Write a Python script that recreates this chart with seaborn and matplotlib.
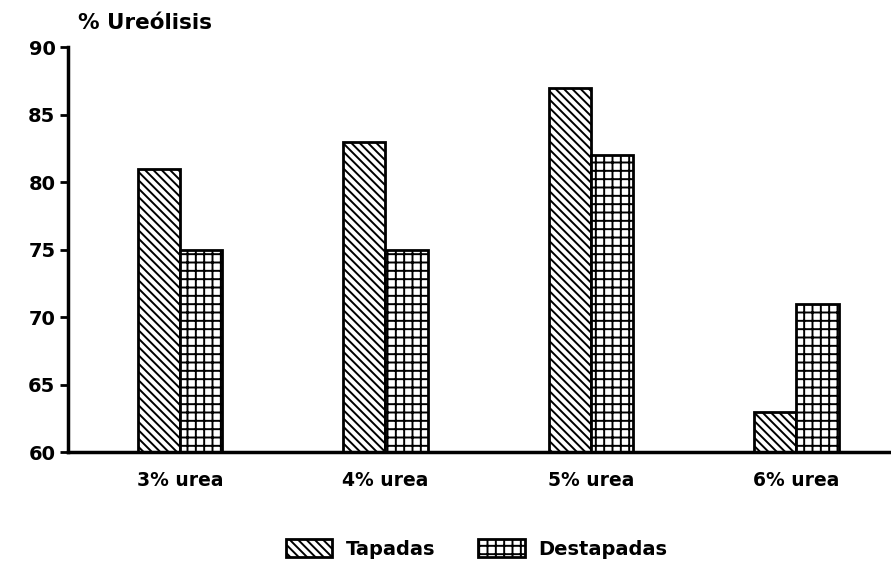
import matplotlib
matplotlib.use('Agg')
import numpy as np
import pandas as pd
import matplotlib.pyplot as plt
import matplotlib.patches as mpatches
import seaborn as sns

categories = ['3% urea', '4% urea', '5% urea', '6% urea']
tapadas = [81, 83, 87, 63]
destapadas = [75, 75, 82, 71]
series = ['Tapadas', 'Destapadas']
hatches = [r'\\\\', '++']

df = pd.DataFrame({
    'Urea': categories * 2,
    'Ureolisis': tapadas + destapadas,
    'Tipo': [series[0]] * 4 + [series[1]] * 4,
})

sns.set_style('ticks')
plt.rcParams['font.family'] = ['DejaVu Sans']
plt.rcParams['font.weight'] = 'bold'
plt.rcParams['hatch.linewidth'] = 1.4
plt.rcParams['text.color'] = 'black'
plt.rcParams['xtick.color'] = 'black'
plt.rcParams['ytick.color'] = 'black'
plt.rcParams['axes.edgecolor'] = 'black'

fig = plt.figure(figsize=(8.91, 5.65), dpi=100)
ax = fig.add_axes([0.0763, 0.2, 0.9237, 0.7168])

sns.barplot(data=df, x='Urea', y='Ureolisis', hue='Tipo', order=categories,
            hue_order=series, width=0.41, gap=0, ax=ax, legend=False)

for cont, h in zip(ax.containers, hatches):
    for bar in cont:
        bar.set_facecolor('white')
        bar.set_edgecolor('black')
        bar.set_linewidth(2)
        bar.set_hatch(h)

ax.set_ylim(60, 90)
ax.set_yticks(range(60, 91, 5))
ax.set_xlim(-0.545, 3.46)
ax.set_xlabel('')
ax.set_ylabel('')
sns.despine(ax=ax)
ax.spines['left'].set_linewidth(2.5)
ax.spines['bottom'].set_linewidth(2.5)
ax.tick_params(axis='y', length=6, width=2, labelsize=14, pad=3, colors='black')
ax.tick_params(axis='x', length=0, labelsize=13.5, pad=14, colors='black')
for lab in ax.get_xticklabels() + ax.get_yticklabels():
    lab.set_fontweight('bold')

fig.text(0.088, 0.96, '% Ureólisis', fontsize=15.5, fontweight='bold', va='center')

handles = [mpatches.Patch(facecolor='white', edgecolor='black', linewidth=2, hatch=h, label=s)
           for h, s in zip(hatches, series)]
fig.legend(handles=handles, loc='center', bbox_to_anchor=(0.535, 0.028), ncol=2,
           frameon=False, handlelength=2.4, handleheight=1.0,
           columnspacing=2.2, handletextpad=0.7, prop={'weight': 'bold', 'size': 14})

fig.savefig('out.png', dpi=100)
